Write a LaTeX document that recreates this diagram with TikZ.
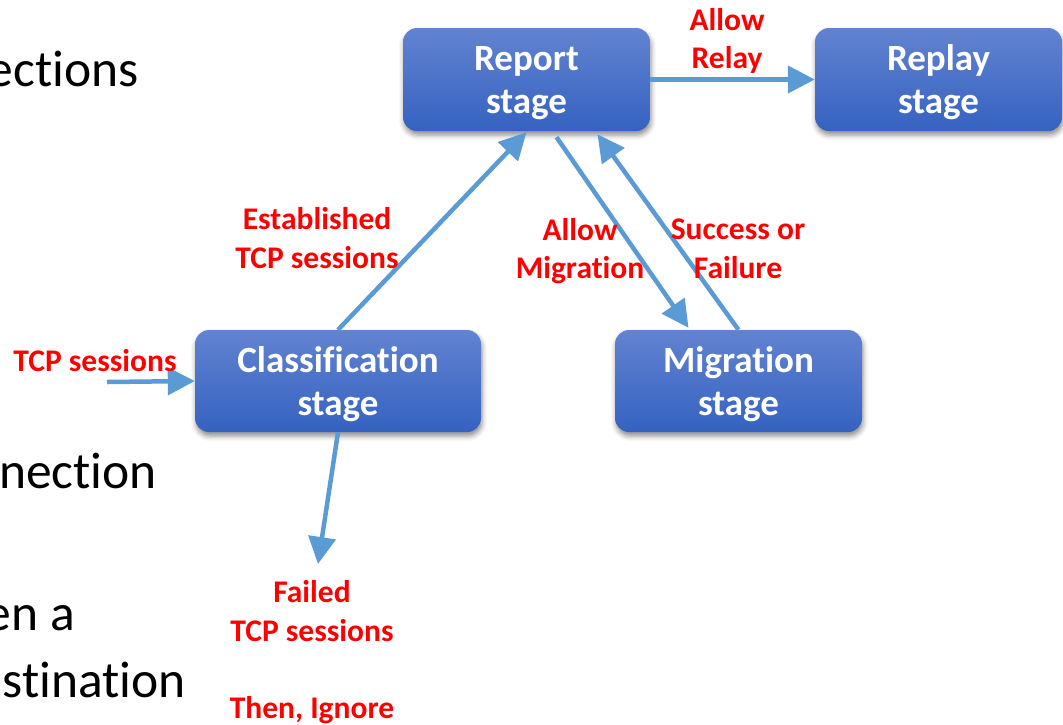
\documentclass[tikz,border=0pt]{standalone}
\usepackage{fontspec}
\setmainfont[Ligatures=NoCommon]{Carlito}
\usetikzlibrary{arrows.meta,shadows.blur}

\definecolor{boxtop}{HTML}{6283D0}
\definecolor{boxbot}{HTML}{3562C1}
\definecolor{flow}{HTML}{5B9BD5}
\definecolor{lab}{HTML}{FF0000}

\tikzset{
  stagebox/.style={rectangle, rounded corners=14pt, draw=none,
    top color=boxtop, bottom color=boxbot,
    minimum width=247pt, minimum height=103pt, inner sep=0pt,
    text=white, align=center, text depth=-4pt,
    font=\bfseries\fontsize{37}{43}\selectfont,
    blur shadow={shadow xshift=1pt, shadow yshift=-4pt,
      shadow blur radius=5pt, shadow opacity=45}},
  flowarrow/.style={draw=flow, line width=4.5pt,
    -{Triangle[length=27pt,width=27pt]}},
  redlabel/.style={text=lab, align=center,
    font=\bfseries\fontsize{31.5}{38.5}\selectfont, inner sep=0pt},
  bodytext/.style={text=black, inner sep=0pt, anchor=base east,
    font=\fontsize{51.5}{62}\selectfont}
}

\begin{document}
\begin{tikzpicture}[x=1pt, y=-1pt]
\useasboundingbox (0,0) rectangle (1063,724);

% ends of the slide's body text lines, running in from the left edge
\node[bodytext] (t1) at (139,86) {ections};
\node[bodytext] (t2) at (157,488) {nection};
\node[bodytext] (t3) at (75,630) {en a};
\node[bodytext] (t4) at (186,697) {stination};

% stages
\node[stagebox] (rep) at (526.5,79.5) {Report\\stage};
\node[stagebox] (rpl) at (938.5,79.5) {Replay\\stage};
\node[stagebox, minimum width=286pt, minimum height=102pt] (cls) at (338,381) {Classification\\stage};
\node[stagebox, minimum height=102pt] (mig) at (738.5,381) {Migration\\stage};

% free ends
\coordinate (in) at (107,382);
\coordinate (out) at (318,564);

% transitions
\draw[flowarrow] (rep.east) -- (rpl.west);
\draw[flowarrow] (cls.north) -- ([yshift=-1pt]rep.south);
\draw[flowarrow] ([xshift=30pt,yshift=-6pt]rep.south) -- ([xshift=-50pt,yshift=2pt]mig.north);
\draw[flowarrow] (mig.north) -- ([xshift=71pt,yshift=-3pt]rep.south);
\draw[flowarrow] (in) -- (cls.west);
\draw[flowarrow] (cls.south) -- (out);

% labels
\node[redlabel] (lrelay) at (727,41) {Allow\\Relay};
\node[redlabel] (lest) at (317,238) {Established\\TCP sessions};
\node[redlabel] (lmig) at (580,251) {Allow\\Migration};
\node[redlabel] (lres) at (738,249) {Success or\\Failure};
\node[redlabel] (lin) at (95,361) {TCP sessions};
\node[redlabel] (lfail) at (312,652) {Failed\\TCP sessions\\[38.5pt]Then, Ignore};
\end{tikzpicture}
\end{document}
